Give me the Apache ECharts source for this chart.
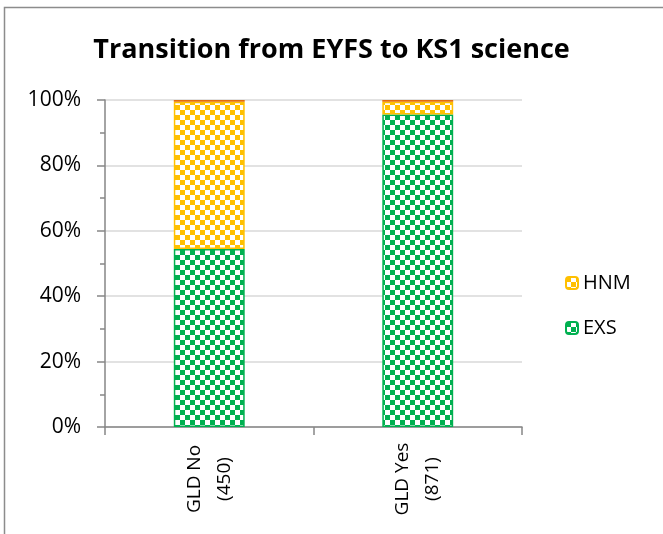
<!DOCTYPE html>
<html><head><meta charset="utf-8">
<script src="https://cdn.jsdelivr.net/npm/echarts@6/dist/echarts.min.js"></script>
<style>html,body{margin:0;padding:0;background:#fff}#c{width:663px;height:534px}</style>
</head><body><div id="c"></div>
<script>
var categories = ['GLD No\n(450)', 'GLD Yes\n(871)'];
var exsValues = [54.4, 95.6];
var hnmValues = [45.1, 3.9];
var topValues = [0.5, 0.5];
var yTicks = [0, 20, 40, 60, 80, 100];

function checker(color, cell) {
  var c = document.createElement('canvas');
  c.width = cell * 2; c.height = cell * 2;
  var g = c.getContext('2d');
  g.fillStyle = '#ffffff'; g.fillRect(0, 0, c.width, c.height);
  g.fillStyle = color;
  g.fillRect(0, 0, cell, cell);
  g.fillRect(cell, cell, cell, cell);
  return { image: c, repeat: 'repeat' };
}
var green = '#00B050', yellow = '#FFC000', orange = '#E46C0A';
var font = '"Open Sans", "Noto Sans", sans-serif';

var chart = echarts.init(document.getElementById('c'), null, { renderer: 'canvas' });
chart.setOption({
  animation: false,
  backgroundColor: '#fff',
  title: {
    text: 'Transition from EYFS to KS1 science',
    left: 'center', top: 32,
    textStyle: { fontFamily: font, fontWeight: 'bold', fontSize: 27, color: '#000' }
  },
  graphic: [{
    type: 'rect', shape: { x: 4.5, y: 7.5, width: 700, height: 600 },
    style: { fill: 'none', stroke: '#8c8c8c', lineWidth: 1.5 }, silent: true, z: -1
  }],
  legend: {
    orient: 'vertical', left: 560, top: 268,
    itemWidth: 12, itemHeight: 12, itemGap: 25,
    data: ['HNM', 'EXS'],
    textStyle: { fontFamily: font, fontSize: 20, color: '#000', padding: [0, 0, 0, 0] }
  },
  grid: { left: 105, right: 141, top: 100, bottom: 107, containLabel: false },
  xAxis: {
    type: 'category', data: categories,
    axisLine: { lineStyle: { color: '#868686', width: 1.5 } },
    axisTick: { show: true, length: 8, lineStyle: { color: '#868686', width: 1.5 } },
    axisLabel: {
      rotate: 90, align: 'center', verticalAlign: 'middle', margin: 52,
      fontFamily: font, fontSize: 19, color: '#000', lineHeight: 30
    }
  },
  yAxis: {
    type: 'value', min: 0, max: 100, interval: 20,
    axisLine: { show: true, lineStyle: { color: '#868686', width: 1.5 } },
    axisTick: { show: true, inside: false, length: 8, lineStyle: { color: '#868686', width: 1.5 } },
    minorTick: { show: true, splitNumber: 2, length: 5, lineStyle: { color: '#868686', width: 1.5 } },
    splitLine: { lineStyle: { color: '#d9d9d9', width: 1.5 } },
    axisLabel: {
      formatter: function (v) { return v + '%'; },
      fontFamily: font, fontSize: 21, color: '#000', margin: 24
    }
  },
  series: [
    { name: 'EXS', type: 'bar', stack: 's', data: exsValues, barWidth: '34%',
      itemStyle: { color: checker(green, 5), borderColor: green, borderWidth: 1.5 } },
    { name: 'HNM', type: 'bar', stack: 's', data: hnmValues,
      itemStyle: { color: checker(yellow, 5), borderColor: yellow, borderWidth: 1.5 } },
    { name: 'Top', type: 'bar', stack: 's', data: topValues,
      itemStyle: { color: orange } }
  ]
});
</script></body></html>
